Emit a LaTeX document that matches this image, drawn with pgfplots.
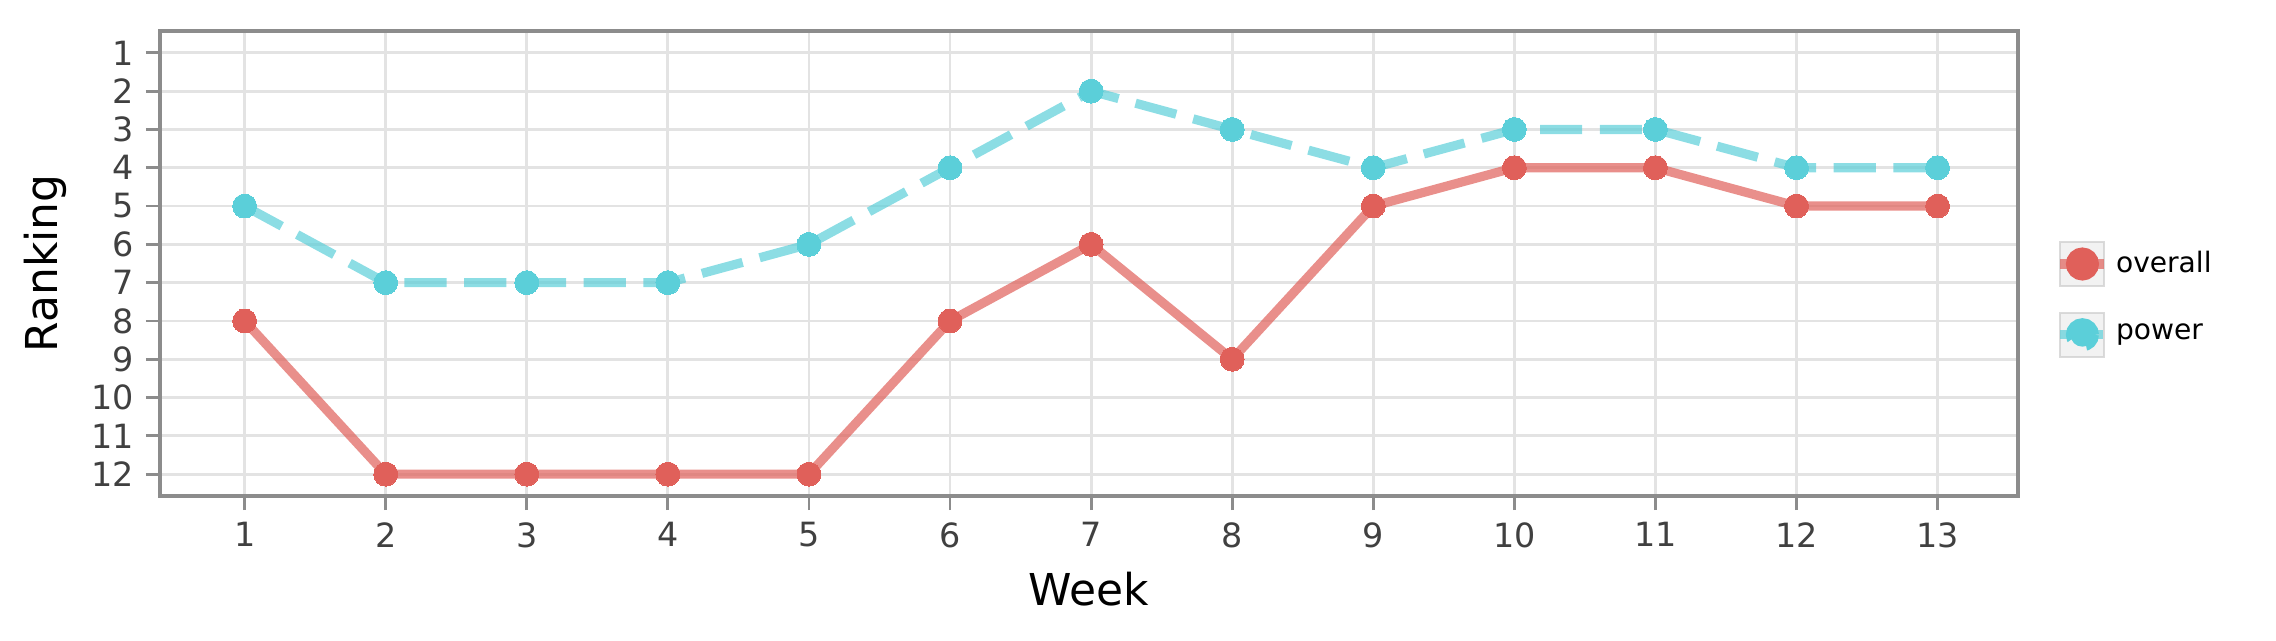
\documentclass[border=0pt]{standalone}
\usepackage{fontspec}
\setmainfont{DejaVu Sans}
\usepackage{pgfplots}
\pgfplotsset{compat=1.18}
\definecolor{cred}{HTML}{E0605A}
\definecolor{ccyan}{HTML}{5BCFD9}
\begin{document}
\begin{tikzpicture}[x=1cm,y=1cm]
\path (-1.6,-1.45) rectangle (21.16,4.96);
\begin{axis}[at={(0,0)},anchor=south west,
  width=18.58cm, height=4.65cm, scale only axis,
  xmin=0.4, xmax=13.57, ymin=0.43, ymax=12.57, y dir=reverse,
  xtick={1,...,13}, ytick={1,...,12}, xtick pos=bottom, ytick pos=left,
  grid=major, major grid style={gray!22, line width=0.8pt},
  axis line style={gray!90, line width=0.9pt},
  tick style={gray!90, line width=0.8pt}, tick align=outside, major tick length=4pt,
  ticklabel style={font=\fontsize{9.5}{11}\selectfont, text=black!75},
  /pgf/number format/assume math mode=true,
  xlabel={Week}, ylabel={Ranking},
  label style={font=\fontsize{12.5}{14}\selectfont},
  legend style={at={(1.02,0.55)}, anchor=north west, draw=none, fill=none,
    font=\fontsize{8}{10}\selectfont, row sep=7pt, inner sep=0pt,
    nodes={inner sep=2pt}},
  legend cell align=left,
  legend image code/.code={\draw[fill=gray!10,draw=gray!40,solid,line width=0.6pt](0cm,-0.22cm)rectangle(0.44cm,0.22cm);
    \draw[#1] (0cm,0cm) -- (0.44cm,0cm);
    \fill[#1,opacity=1,draw opacity=1] (0.22cm,0cm) circle (3.4pt);},
]
\addplot[cred, draw opacity=0.7, line width=2.6pt, mark=*, mark options={solid, fill=cred, draw=cred, opacity=1, line width=0pt}, mark size=3.4pt]
 coordinates {(1,8)(2,12)(3,12)(4,12)(5,12)(6,8)(7,6)(8,9)(9,5)(10,4)(11,4)(12,5)(13,5)};
\addlegendentry{overall}
\addplot[ccyan, draw opacity=0.7, line width=2.6pt, dash pattern=on 12pt off 5pt, mark=*, mark options={solid, fill=ccyan, draw=ccyan, opacity=1, line width=0pt}, mark size=3.4pt]
 coordinates {(1,5)(2,7)(3,7)(4,7)(5,6)(6,4)(7,2)(8,3)(9,4)(10,3)(11,3)(12,4)(13,4)};
\addlegendentry{power}
\node[anchor=south west, font=\fontsize{9.5}{11}\selectfont, inner sep=0pt] at (rel axis cs:1.024,0.63) {Ranking};
\end{axis}
\end{tikzpicture}
\end{document}
